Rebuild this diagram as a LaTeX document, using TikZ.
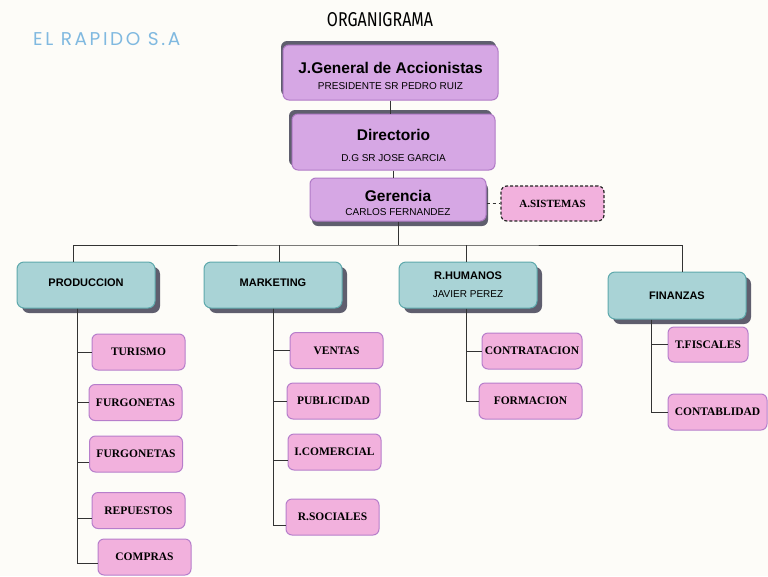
\documentclass[tikz,border=0pt]{standalone}
\usepackage{fontspec}
\setmainfont{Liberation Serif}
\newfontfamily\boxfont{Liberation Sans}
\newfontfamily\titlefont[FakeStretch=0.8]{Fira Sans}
\newfontfamily\brandfont[LetterSpace=14]{Poppins}
\usetikzlibrary{calc,shadows}
\definecolor{paper}{HTML}{FDFCF8}
\definecolor{topfill}{HTML}{D6A7E4}
\definecolor{topline}{HTML}{B07AC6}
\definecolor{deptfill}{HTML}{A9D3D6}
\definecolor{deptline}{HTML}{5EA9AC}
\definecolor{subfill}{HTML}{F2B1DD}
\definecolor{subline}{HTML}{B77ECB}
\definecolor{shade}{HTML}{5F5E6E}
\definecolor{brand}{HTML}{6AADDA}
\tikzset{
	topbox/.style={draw=topline, fill=topfill, line width=1pt, rounded corners=6pt, inner sep=0pt, align=center, font=\boxfont},
	deptbox/.style={draw=deptline, fill=deptfill, line width=1pt, rounded corners=7pt, inner sep=0pt, align=center, font=\boxfont,
		minimum width=138pt, minimum height=46pt, general shadow={fill=shade, shadow xshift=5pt, shadow yshift=-5pt}},
	subbox/.style={draw=subline, fill=subfill, line width=1pt, rounded corners=6pt, inner sep=0pt,
		minimum width=#1, minimum height=36pt, font=\bfseries\fontsize{11.5}{13}\selectfont},
	subbox/.default=93pt,
	link/.style={draw=black!80, line width=0.8pt},
}
\newcommand{\bigname}[1]{{\fontsize{15.5}{17}\selectfont\bfseries #1}}
\newcommand{\smallname}[1]{{\fontsize{10}{12}\selectfont #1}}
\newcommand{\deptname}[1]{{\fontsize{11}{13}\selectfont\bfseries #1}}
% two lines, set a little lower than the middle
\newcommand{\twoline}[3]{\raisebox{0pt}[\dimexpr\height+11pt\relax]{\begin{tabular}{@{}c@{}}\bigname{#1}\\[#2]\smallname{#3}\end{tabular}}}
\begin{document}
\begin{tikzpicture}[x=1pt,y=-1pt]
			% page
			\fill[paper] (0,0) rectangle (768,576);
			\useasboundingbox (0,0) rectangle (768,576);

			% titles
			\node[font=\titlefont\fontsize{20}{22}\selectfont] (title) at (380,20) {ORGANIGRAMA};
			\node[font=\brandfont\fontsize{18.5}{20}\selectfont, text=brand!85, anchor=west, inner sep=0pt] (brandname) at (33,39) {EL RAPIDO S.A};

			% top of the chart
			\node[topbox, minimum width=215pt, minimum height=55pt, general shadow={fill=shade, shadow yshift=4pt, shadow xshift=-2pt}] (jgen) at (390.5,72.5)
				{\twoline{J.General de Accionistas}{4pt}{PRESIDENTE SR PEDRO RUIZ}};
			\node[topbox, minimum width=203pt, minimum height=56pt, general shadow={fill=shade, shadow yshift=4pt, shadow xshift=-3pt}] (dir) at (393.5,142)
				{\twoline{Directorio}{9pt}{D.G SR JOSE GARCIA}};
			\node[topbox, minimum width=176pt, minimum height=43pt, general shadow={fill=shade, shadow yshift=-5pt, shadow xshift=2pt}] (ger) at (398,199.5)
				{\twoline{Gerencia}{2pt}{CARLOS FERNANDEZ}};
			\node[subbox=103pt, minimum height=35pt, dashed, draw=black!85, line width=1.2pt, dash pattern=on 3pt off 2pt,
				font=\bfseries\fontsize{11}{13}\selectfont] (sis) at (552.5,203.5) {A.SISTEMAS};

			% departments
			\node[deptbox] (prod) at (86,285) {\raisebox{5pt}{\deptname{PRODUCCION}}};
			\node[deptbox] (mkt) at (273,285) {\raisebox{5pt}{\deptname{MARKETING}}};
			\node[deptbox] (rh) at (468,285) {\deptname{R.HUMANOS}\\[6pt]\smallname{JAVIER PEREZ}};
			\node[deptbox, minimum height=47pt] (fin) at (677,295.5) {\deptname{FINANZAS}};

			% sections
			\node[subbox] (tur) at (138.5,352) {TURISMO};
			\node[subbox] (furA) at (135.5,402.5) {FURGONETAS};
			\node[subbox] (furB) at (136,454) {FURGONETAS};
			\node[subbox] (rep) at (138.5,510.5) {REPUESTOS};
			\node[subbox] (com) at (144.5,557) {COMPRAS};
			\node[subbox] (ven) at (336.5,350.5) {VENTAS};
			\node[subbox] (pub) at (333.5,401) {PUBLICIDAD};
			\node[subbox] (icom) at (334.5,452) {I.COMERCIAL};
			\node[subbox] (rsoc) at (332.5,517) {R.SOCIALES};
			\node[subbox=100pt] (contr) at (532,351) {CONTRATACION};
			\node[subbox=103pt] (form) at (530.5,401) {FORMACION};
			\node[subbox=80pt, minimum height=35pt] (tfis) at (708,344.5) {T.FISCALES};
			\node[subbox=99pt] (cont) at (717.5,412) {CONTABLIDAD};

			% top links
			\draw[link] (jgen.south) -- (jgen.south |- dir.north);
			\draw[link] (dir.south) -- (dir.south |- ger.north);
			\draw[link, dashed, line width=0.6pt] (ger.east |- sis.west) -- (sis.west);

			% bus to the departments
			\coordinate (bus) at (ger.south |- 0,245);
			\draw[link] (ger.south) -- (bus);
			\draw[link] (prod.north -| 73,0) |- (bus) -| (fin.north -| 682,0);
			\draw[link] (mkt.north -| 279,0) -- (279,245);
			\draw[link] (rh.north -| 466,0) -- (466,245);

			% spines
			\coordinate (prodS) at (prod.south -| 77,0);
			\coordinate (mktS) at (mkt.south);
			\coordinate (rhS) at (rh.south -| 466,0);
			\coordinate (finS) at (fin.south -| 651,0);
			\draw[link] (prodS) |- (tur.west);
			\draw[link] (prodS) |- (furA.west);
			\draw[link] (prodS) |- ($(furB.west)+(0,8)$);
			\draw[link] (prodS) |- ($(rep.west)+(0,8)$);
			\draw[link] (prodS) |- ($(com.west)+(0,6)$);
			\draw[link] (mktS) |- (ven.west);
			\draw[link] (mktS) |- (pub.west);
			\draw[link] (mktS) |- ($(icom.west)+(0,8)$);
			\draw[link] (mktS) |- ($(rsoc.west)+(0,8)$);
			\draw[link] (rhS) |- (contr.west);
			\draw[link] (rhS) |- (form.west);
			\draw[link] (finS) |- (tfis.west);
			\draw[link] (finS) |- (cont.west);
\end{tikzpicture}
\end{document}
